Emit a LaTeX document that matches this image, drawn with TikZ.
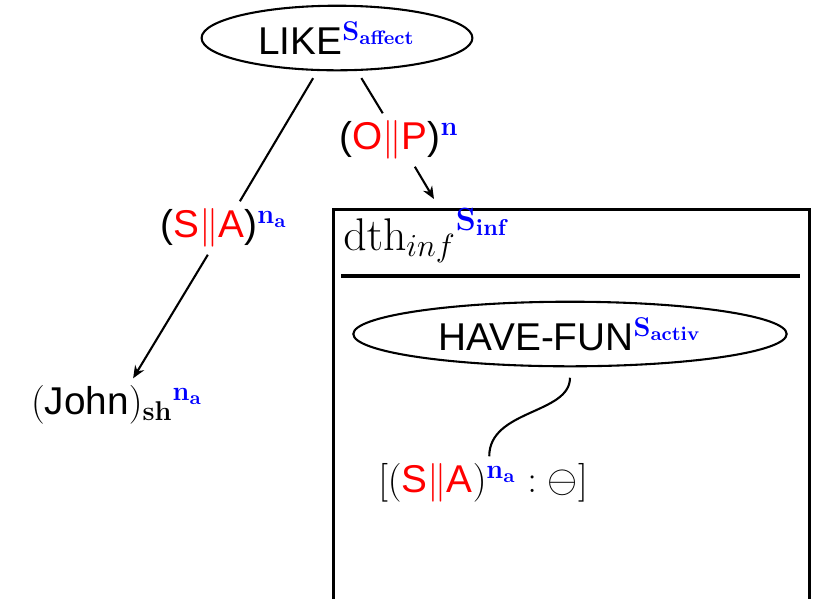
\RequirePackage{fix-cm}
\documentclass[tikz,border=0pt]{standalone}
\usepackage[no-math]{fontspec}
\setmainfont{Liberation Sans}
\usetikzlibrary{shapes.geometric,arrows.meta}
\newcommand{\rd}[1]{\textcolor{red}{#1}}
\newcommand{\bl}[1]{\textcolor{blue}{\mathbf{#1}}}

\begin{document}
\begin{tikzpicture}[x=0.48pt,y=-0.48pt,
        every node/.style={font=\fontsize{18.6}{22}\selectfont},
        sem/.style={draw, ellipse, line width=1pt, inner sep=0pt, minimum height=31pt},
        link/.style={line width=1pt},
        arr/.style={link, -{Stealth[length=6pt,width=5pt]}}]
    \clip (0,0) rectangle (814,598);

    % Top predicate
    \node[sem, minimum width=130pt] (like) at (337,38) {LIKE$^{\bl{S_{affect}}}$};

    % Edge labels
    \node (sa) at (224,228) {(\rd{S$\|$A})$^{\bl{n_a}}$};
    \node (op) at (399,140) {(\rd{O$\|$P})$^{\bl{n}}$};

    % Left leaf
    \node (john) at (117,405) {$(\mbox{John})_{\mathbf{sh}}{}^{\bl{n_a}}$};

    % Right frame
    \node[draw, line width=1.2pt, anchor=north west, minimum width=228.5pt, minimum height=220pt] (frame) at (332,208) {};
    \node[font=\fontsize{22}{26}\selectfont, anchor=base west, inner sep=0pt] (dth) at (343,250) {${\mathrm{dth}_{inf}}^{\bl{S_{inf}}}$};
    \draw[line width=1.5pt] (341,276) -- (800,276);
    \coordinate (optip) at (434,199);

    \node[sem, minimum width=208pt] (hf) at (570,334) {HAVE-FUN$^{\bl{S_{activ}}}$};
    \node (sab) at (483,483) {$\bigl[(\mbox{\rd{S}}\rd{\|}\mbox{\rd{A}})^{\bl{n_a}} : \ominus\bigr]$};

    % Connectors
    \draw[link, shorten <=4pt] (like) -- (sa);
    \draw[arr] (sa) -- (john);
    \draw[link, shorten <=4pt] (like) -- (op);
    \draw[arr] (op) -- (optip);
    \draw[link, shorten <=5pt] (hf.south) to[out=-90, in=90] ([xshift=3pt]sab.north);
\end{tikzpicture}
\end{document}
